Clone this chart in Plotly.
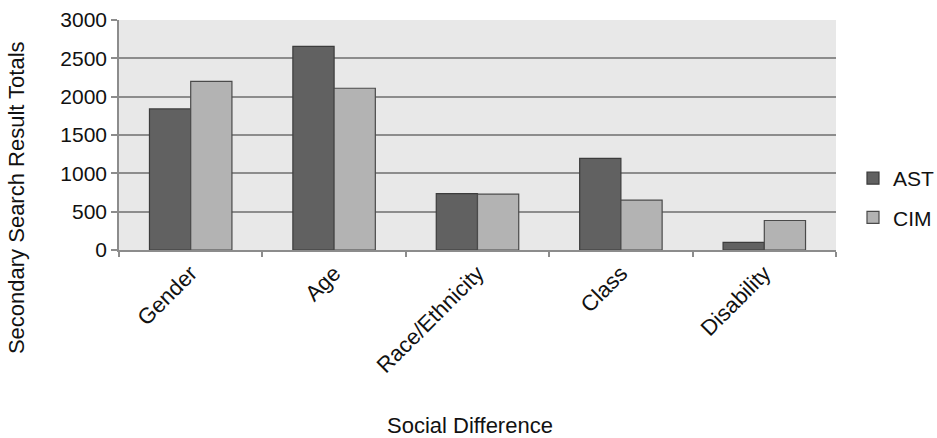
import plotly.graph_objects as go

categories = ["Gender", "Age", "Race/Ethnicity", "Class", "Disability"]
ast_values = [1840, 2655, 735, 1195, 100]
cim_values = [2200, 2110, 728, 650, 385]
y_ticks = [0, 500, 1000, 1500, 2000, 2500, 3000]

FONT = "Liberation Sans, Arial, Helvetica, sans-serif"

fig = go.Figure()
fig.add_trace(go.Bar(
    x=categories, y=ast_values, name="AST", legendgroup="a",
    marker=dict(color="#616161", line=dict(color="#3c3c3c", width=1.2)),
))
fig.add_trace(go.Bar(
    x=categories, y=cim_values, name="CIM", legendgroup="b",
    marker=dict(color="#b3b3b3", line=dict(color="#4a4a4a", width=1.2)),
))

fig.update_layout(
    width=937, height=438,
    margin=dict(l=119, r=101, t=20, b=188, autoexpand=False),
    paper_bgcolor="white",
    plot_bgcolor="#e8e8e8",
    barmode="group",
    bargap=0.425,
    bargroupgap=0,
    font=dict(family=FONT, size=21, color="#111111"),
    showlegend=True,
    legend=dict(
        x=1.0237, y=0.226, xanchor="left", yanchor="middle",
        font=dict(size=21, color="#111111"),
        tracegroupgap=9,
        bgcolor="rgba(0,0,0,0)",
        itemwidth=30,
        borderwidth=0,
    ),
    xaxis=dict(
        type="category",
        automargin=False,
        tickangle=-45,
        ticks="outside", ticklen=5, tickcolor="#8c8c8c", tickwidth=1.5,
        tickson="boundaries",
        showline=True, linecolor="#8c8c8c", linewidth=1.5,
        showgrid=False,
        tickfont=dict(size=22, color="#111111"),
    ),
    yaxis=dict(
        automargin=False,
        range=[0, 3000],
        tickvals=y_ticks,
        ticks="outside", ticklen=6, tickcolor="#8c8c8c", tickwidth=1.5,
        showline=True, linecolor="#8c8c8c", linewidth=1.5,
        showgrid=True, gridcolor="#8c8c8c", gridwidth=1.5,
        zeroline=False,
        tickfont=dict(size=21, color="#111111"),
    ),
    annotations=[
        dict(text="Secondary Search Result Totals", xref="paper", yref="paper",
             x=-0.1437, y=0.23, xanchor="center", yanchor="middle",
             textangle=-90, showarrow=False,
             font=dict(size=22, color="#111111", family=FONT)),
        dict(text="Social Difference", xref="paper", yref="paper",
             x=0.4895, y=-0.765, xanchor="center", yanchor="middle",
             showarrow=False,
             font=dict(size=22, color="#111111", family=FONT)),
    ],
)

fig.write_html(
    "out.html",
    config={"displayModeBar": False},
    post_script="document.body.style.margin='0';document.body.style.padding='0';",
)
